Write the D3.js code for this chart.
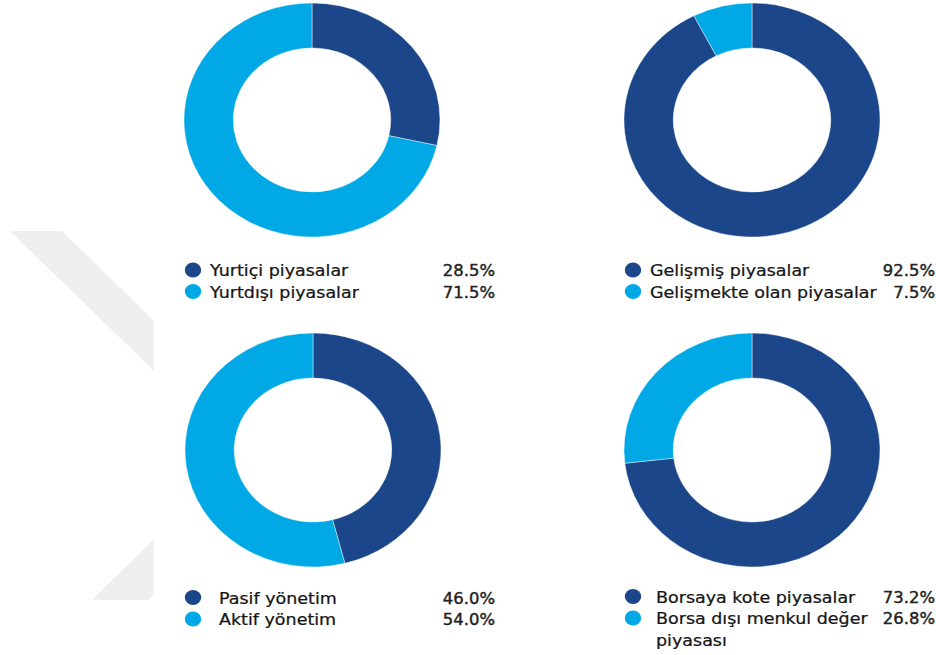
<!DOCTYPE html>
<html>
<head>
<meta charset="utf-8">
<script src="https://cdn.jsdelivr.net/npm/d3@7"></script>
<style>
  html, body { margin: 0; padding: 0; background: #ffffff; }
  svg { display: block; }
  text { font-family: "DejaVu Sans", Verdana, sans-serif; }
</style>
</head>
<body>
<svg id="chart" width="936" height="655"></svg>
<script>
// Four donut panels: market breakdowns
const labelsDomestic = ["Yurtiçi piyasalar", "Yurtdışı piyasalar"];
const valuesDomestic = [28.5, 71.5];

const labelsDeveloped = ["Gelişmiş piyasalar", "Gelişmekte olan piyasalar"];
const valuesDeveloped = [92.5, 7.5];

const labelsManagement = ["Pasif yönetim", "Aktif yönetim"];
const valuesManagement = [46.0, 54.0];

const labelsExchange = ["Borsaya kote piyasalar", "Borsa dışı menkul değer\npiyasası"];
const valuesExchange = [73.2, 26.8];

const sliceColors = ["#1b4689", "#00a8e6"];

const W = 936, H = 655;
const sx = 1.094;          // horizontal stretch of the whole layout
const outerR = 117, innerR = 72;

const panels = [
  { labels: labelsDomestic,   values: valuesDomestic,   cx: 312, cy: 120, lx: 193, ty: 270, vx: 495 },
  { labels: labelsDeveloped,  values: valuesDeveloped,  cx: 752, cy: 120, lx: 633, ty: 270, vx: 935 },
  { labels: labelsManagement, values: valuesManagement, cx: 313, cy: 450, lx: 193, ty: 597.5, vx: 495, textOffset: 26 },
  { labels: labelsExchange,   values: valuesExchange,   cx: 752, cy: 450, lx: 633, ty: 596.5, vx: 935, textOffset: 23 }
];

const svg = d3.select("#chart");
svg.append("rect").attr("width", W).attr("height", H).attr("fill", "#ffffff");

// faint background emblem on the left margin
const wm = svg.append("g").attr("fill", "#efefef");
wm.append("polygon").attr("points", [[10,231],[62,231],[154,321],[154,371]].map(p => p.join(",")).join(" "));
wm.append("polygon").attr("points", [[92,600],[154,539],[154,594],[148,600]].map(p => p.join(",")).join(" "));

const pie = d3.pie().sort(null).value(d => d);
const arc = d3.arc().innerRadius(innerR).outerRadius(outerR);
const fmt = v => d3.format(".1f")(v) + "%";
const lineStep = 21.5;

panels.forEach(p => {
  const g = svg.append("g")
    .attr("transform", `translate(${p.cx},${p.cy}) scale(${sx},1)`);
  g.selectAll("path")
    .data(pie(p.values))
    .join("path")
    .attr("d", arc)
    .attr("fill", (d, i) => sliceColors[i])
    .attr("stroke", "#ffffff")
    .attr("stroke-width", 0.4);

  const tOff = p.textOffset || 17;
  p.labels.forEach((lab, i) => {
    const y = p.ty + i * lineStep;
    svg.append("ellipse")
      .attr("cx", p.lx).attr("cy", y)
      .attr("rx", 8.2).attr("ry", 7.5)
      .attr("fill", sliceColors[i]);

    const lines = lab.split("\n");
    lines.forEach((ln, k) => {
      svg.append("text")
        .attr("transform", `translate(${p.lx + tOff},${y + 6 + k * lineStep}) scale(${sx},1)`)
        .attr("font-size", 16)
        .attr("fill", "#161616")
        .attr("stroke", "#161616")
        .attr("stroke-width", 0.25)
        .text(ln);
    });

    svg.append("text")
      .attr("transform", `translate(${p.vx},${y + 6}) scale(${sx},1)`)
      .attr("text-anchor", "end")
      .attr("font-size", 15)
      .attr("fill", "#222222")
      .attr("stroke", "#222222")
      .attr("stroke-width", 0.4)
      .text(fmt(p.values[i]));
  });
});
</script>
</body>
</html>
